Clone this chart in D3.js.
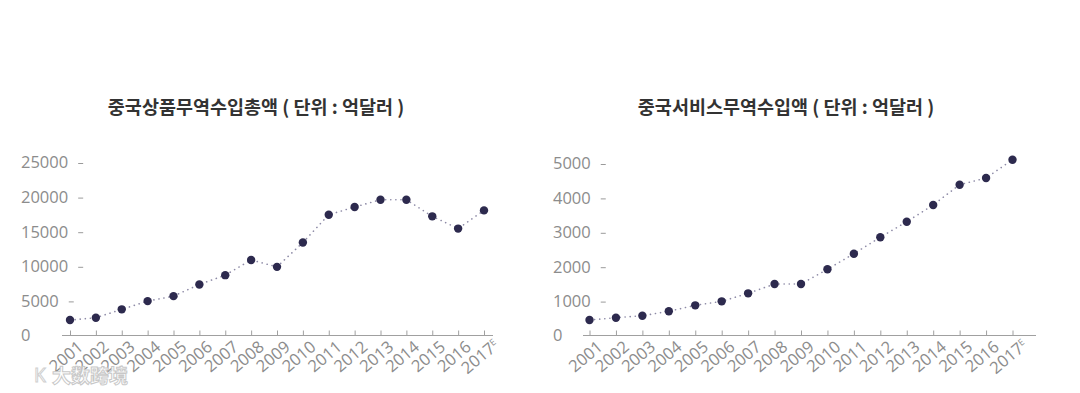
<!DOCTYPE html>
<html>
<head>
<meta charset="utf-8">
<script src="https://cdn.jsdelivr.net/npm/d3@7"></script>
<style>
    body { margin: 0; background: #fff; }
    svg { display: block; }
</style>
</head>
<body>
<svg id="drawing_region"></svg>
<script>
const years = ['2001', '2002', '2003', '2004', '2005', '2006', '2007', '2008', '2009',
    '2010', '2011', '2012', '2013', '2014', '2015', '2016', '2017'];

const goods_imports = [2230, 2570, 3780, 4970, 5690, 7380, 8720, 10920, 9920,
    13430, 17460, 18560, 19620, 19620, 17220, 15450, 18080];

const service_imports = [450, 517, 576, 703, 877, 993, 1226, 1497, 1497,
    1924, 2378, 2855, 3308, 3794, 4384, 4578, 5110];

const goods_ticks = [0, 5000, 10000, 15000, 20000, 25000];
const service_ticks = [0, 1000, 2000, 3000, 4000, 5000];

const goods_title = '중국상품무역수입총액  ( 단위 : 억달러 )';
const service_title = '중국서비스무역수입액 ( 단위 : 억달러 )';

const svg = d3.select('#drawing_region')
    .attr('width', 1080)
    .attr('height', 393);

class DotLineChart {

    constructor(config, data) {
        this.config = config;
        this.data = data;
        this.init();
    }

    init() {
        let self = this;
        let c = self.config;

        self.chart = svg.append('g');

        self.xscale = d3.scalePoint()
            .domain(years)
            .range([c.x0, c.x1]);

        self.yscale = d3.scaleLinear()
            .domain([0, c.ymax])
            .range([c.y0, c.ytop]);

        self.chart.append('text')
            .attr('x', c.title_x)
            .attr('y', 114)
            .attr('text-anchor', 'middle')
            .style('font-family', '"Noto Sans CJK KR", sans-serif')
            .style('font-size', '18.5px')
            .style('font-weight', 'bold')
            .style('fill', '#333')
            .text(c.title);
    }

    render() {
        let self = this;
        let c = self.config;
        let font = '"Open Sans", "Noto Sans", sans-serif';

        // x axis with upward ticks
        let xaxis = d3.axisBottom(self.xscale)
            .tickSize(-5)
            .tickSizeOuter(0)
            .tickFormat('');

        let xg = self.chart.append('g')
            .attr('transform', `translate(0, ${c.y0})`)
            .call(xaxis);
        xg.select('.domain')
            .attr('d', `M${c.axis_left},0H${c.axis_right}`)
            .attr('stroke', '#a0a0a0');
        xg.selectAll('.tick line').attr('stroke', '#a0a0a0');

        let labels = self.chart.append('g').selectAll('text')
            .data(years)
            .join('text')
            .attr('transform', d => `translate(${self.xscale(d) - 4}, ${c.y0 + 21}) rotate(-40)`)
            .attr('text-anchor', 'middle')
            .attr('dy', '0.35em')
            .style('font-family', font)
            .style('font-size', '16.5px')
            .style('fill', '#8c8c8c')
            .text(d => d);
        labels.filter(d => d == '2017')
            .append('tspan')
            .attr('dy', '-0.6em')
            .style('font-size', '9px')
            .text('E');

        // y labels, left aligned, with a short dash after each
        let yg = self.chart.append('g');
        yg.selectAll('text')
            .data(c.ticks)
            .join('text')
            .attr('x', c.label_x)
            .attr('y', d => self.yscale(d))
            .attr('dy', '0.36em')
            .style('font-family', font)
            .style('font-size', '16.5px')
            .style('fill', '#8c8c8c')
            .text(d => d)
            .each(function (d) {
                if (d == 0) return;
                let w = this.getComputedTextLength();
                yg.append('line')
                    .attr('x1', c.label_x + w + 10)
                    .attr('x2', c.label_x + w + 15)
                    .attr('y1', self.yscale(d) + 1)
                    .attr('y2', self.yscale(d) + 1)
                    .attr('stroke', '#9a9a9a')
                    .attr('stroke-width', 1);
            });

        let line = d3.line()
            .x((d, i) => self.xscale(years[i]))
            .y(d => self.yscale(d));

        self.chart.append('path')
            .datum(self.data)
            .attr('d', line)
            .attr('fill', 'none')
            .attr('stroke', '#8d8aa6')
            .attr('stroke-width', 1.6)
            .attr('stroke-linecap', 'round')
            .attr('stroke-dasharray', '0.1 5');

        self.chart.selectAll('circle')
            .data(self.data)
            .join('circle')
            .attr('cx', (d, i) => self.xscale(years[i]))
            .attr('cy', d => self.yscale(d))
            .attr('r', 4.2)
            .style('fill', '#2d2a4e');
    }
}

const left_chart = new DotLineChart({
    title: goods_title, title_x: 256,
    x0: 70, x1: 484, axis_left: 62, axis_right: 493,
    y0: 335.5, ytop: 162.5, ymax: 25000, ticks: goods_ticks, label_x: 21
}, goods_imports);
left_chart.render();

const right_chart = new DotLineChart({
    title: service_title, title_x: 786,
    x0: 589.5, x1: 1012.5, axis_left: 583, axis_right: 1036,
    y0: 335.5, ytop: 163.5, ymax: 5000, ticks: service_ticks, label_x: 553
}, service_imports);
right_chart.render();

// faint watermark, bottom left
svg.append('text')
    .attr('x', 52)
    .attr('y', 383)
    .style('font-family', '"Noto Sans CJK SC", sans-serif')
    .style('font-size', '19px')
    .style('font-weight', 'bold')
    .style('fill', '#fff')
    .style('stroke', '#c8c8c8')
    .style('stroke-width', 1)
    .text('大数跨境');
svg.append('text')
    .attr('x', 34)
    .attr('y', 382)
    .style('font-family', '"Noto Sans", sans-serif')
    .style('font-size', '19px')
    .style('fill', '#fff')
    .style('stroke', '#d0d0d0')
    .style('stroke-width', 1)
    .text('K');
</script>
</body>
</html>
